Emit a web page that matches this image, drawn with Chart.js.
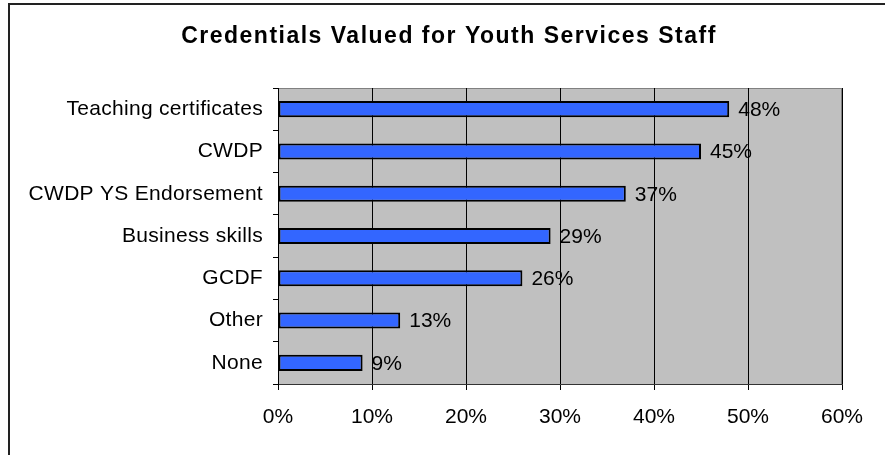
<!DOCTYPE html>
<html>
<head>
<meta charset="utf-8">
<script src="https://cdn.jsdelivr.net/npm/chart.js@4/dist/chart.umd.min.js"></script>
<style>
  html, body { margin: 0; padding: 0; background: #fff; }
  #wrap { position: relative; width: 885px; height: 455px; }
  #frame { position: absolute; left: 8px; top: 3px; right: 0; bottom: 0;
           border-left: 2px solid #222; border-top: 2px solid #222; pointer-events: none; }
</style>
</head>
<body>
<div id="wrap">
  <canvas id="chart" width="885" height="455"></canvas>
  <div id="frame"></div>
</div>
<script>
var titleText = 'Credentials Valued for Youth Services Staff';
var categories = ['Teaching certificates', 'CWDP', 'CWDP YS Endorsement', 'Business skills', 'GCDF', 'Other', 'None'];
var percents = [48, 45, 37, 29, 26, 13, 9];
var xTicks = [0, 10, 20, 30, 40, 50, 60];

var FONT = '"Liberation Sans", Arial, sans-serif';

var plotBg = {
  id: 'plotBg',
  beforeDraw: function(chart) {
    var a = chart.chartArea, ctx = chart.ctx;
    ctx.save();
    ctx.fillStyle = '#c0c0c0';
    ctx.fillRect(a.left, a.top, a.right - a.left, a.bottom - a.top);
    ctx.strokeStyle = '#808080';
    ctx.lineWidth = 1;
    ctx.strokeRect(a.left + 0.5, a.top + 0.5, a.right - a.left - 1, a.bottom - a.top);
    ctx.restore();
  },
  afterLayout: function(chart) {
    // a touch of letter spacing on the category labels
    var y = chart.scales.y;
    if (!y._spaced) {
      var orig = y.drawLabels;
      y.drawLabels = function(area) {
        this.ctx.save();
        this.ctx.letterSpacing = '0.3px';
        orig.call(this, area);
        this.ctx.restore();
      };
      y._spaced = true;
    }
  },
  afterDraw: function(chart) {
    var ctx = chart.ctx;
    ctx.save();
    ctx.font = 'bold 23px ' + FONT;
    ctx.letterSpacing = '1.5px';
    ctx.fillStyle = '#000';
    ctx.textAlign = 'center';
    ctx.textBaseline = 'middle';
    ctx.fillText(titleText, 449, 37);
    ctx.restore();
  }
};

var valueLabels = {
  id: 'valueLabels',
  afterDatasetsDraw: function(chart) {
    var ctx = chart.ctx;
    var meta = chart.getDatasetMeta(0);
    ctx.save();
    ctx.font = '21px ' + FONT;
    ctx.fillStyle = '#000';
    ctx.textBaseline = 'middle';
    meta.data.forEach(function(bar, i) {
      ctx.fillText(percents[i] + '%', bar.x + 9, bar.y + 1);
    });
    ctx.restore();
  }
};

var ctx = document.getElementById('chart');
new Chart(ctx, {
  type: 'bar',
  data: {
    labels: categories,
    datasets: [{
      data: percents,
      backgroundColor: '#3366ff',
      borderColor: '#000',
      borderWidth: 2,
      borderSkipped: false,
      barPercentage: 0.38,
      categoryPercentage: 1
    }]
  },
  options: {
    indexAxis: 'y',
    responsive: false,
    animation: false,
    layout: { padding: { left: 0, right: 43, top: 88, bottom: 0 } },
    plugins: {
      legend: { display: false },
      tooltip: { enabled: false },
      title: { display: false }
    },
    scales: {
      x: {
        min: 0,
        max: 60,
        afterBuildTicks: function(scale) {
          scale.ticks = xTicks.map(function(v) { return { value: v }; });
        },
        afterFit: function(scale) { scale.height = 71; },
        grid: { color: '#000', lineWidth: 1, tickLength: 6, tickColor: '#000' },
        border: { color: '#333', width: 1 },
        ticks: {
          color: '#000',
          padding: 15,
          font: { family: FONT, size: 21 },
          callback: function(v) { return v + '%'; }
        }
      },
      y: {
        afterFit: function(scale) { scale.width = 278; },
        grid: { drawOnChartArea: false, tickLength: 5, color: '#000', offset: true },
        border: { color: '#000', width: 1 },
        ticks: {
          color: '#000',
          padding: 10,
          font: { family: FONT, size: 21 }
        }
      }
    }
  },
  plugins: [plotBg, valueLabels]
});
</script>
</body>
</html>
